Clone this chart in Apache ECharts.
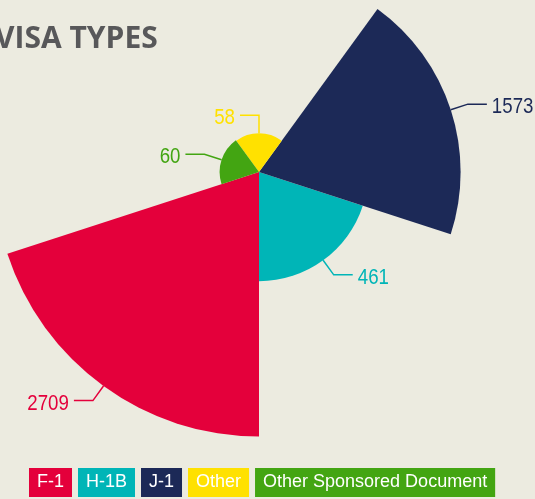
<!DOCTYPE html>
<html>
<head>
<meta charset="utf-8">
<script src="https://cdn.jsdelivr.net/npm/echarts@6/dist/echarts.min.js"></script>
<style>
  html, body { margin: 0; padding: 0; background: #ecebe0; }
  #chart { width: 535px; height: 499px; }
</style>
</head>
<body>
<div id="chart"></div>
<script>
// visa types, counts
const categories = ['F-1', 'H-1B', 'J-1', 'Other', 'Other Sponsored Document'];
const values = [2709, 461, 1573, 58, 60];
const colors = ['#e4003b', '#00b5b7', '#1c2957', '#ffe100', '#43a512'];

const labelFont = '"Liberation Sans", Arial, sans-serif';

// wedge radius grows with sqrt(count) so the area follows the count
function renderSlice(params, api) {
  const cs = params.coordSys;
  const value = api.value(0);
  const color = api.visual('color');
  const pt = api.coord([Math.sqrt(value), api.value(1)]);
  const r = Math.hypot(pt[0] - cs.cx, pt[1] - cs.cy);
  const a = Math.atan2(pt[1] - cs.cy, pt[0] - cs.cx);
  const half = api.size([0, 1])[1] / 2;

  const cos = Math.cos(a), sin = Math.sin(a);
  const side = cos > 0.01 ? 1 : -1;
  const p1 = [pt[0], pt[1]];
  const p2 = [p1[0] + cos * 18, p1[1] + sin * 18];
  const p3 = [p2[0] + side * 19, p2[1]];

  return {
    type: 'group',
    children: [
      {
        type: 'sector',
        shape: { cx: cs.cx, cy: cs.cy, r0: 0, r: r, startAngle: a - half, endAngle: a + half, clockwise: true },
        style: { fill: color }
      },
      {
        type: 'polyline',
        shape: { points: [p1, p2, p3] },
        style: { stroke: color, lineWidth: 1.5, fill: null }
      },
      {
        type: 'text',
        x: p3[0] + side * 5,
        y: p3[1] + 3,
        scaleX: 0.85,
        style: {
          text: String(value),
          fill: color,
          fontSize: 22,
          fontFamily: labelFont,
          align: side > 0 ? 'left' : 'right',
          verticalAlign: 'middle'
        }
      }
    ]
  };
}

const chart = echarts.init(document.getElementById('chart'));
chart.setOption({
  backgroundColor: '#ecebe0',
  animation: false,
  title: {
    text: 'VISA TYPES',
    left: -5,
    top: 24,
    padding: 0,
    textStyle: { fontFamily: '"Open Sans", sans-serif', fontWeight: 'bold', fontSize: 30, color: '#58585a' }
  },
  polar: { center: [259, 172], radius: 305 },
  angleAxis: { type: 'category', data: categories, startAngle: 198, clockwise: false, show: false },
  radiusAxis: { type: 'value', min: 0, max: 60, show: false },
  legend: {
    left: 24,
    top: 468,
    padding: 0,
    itemGap: 1,
    itemWidth: 0,
    itemHeight: 0,
    selectedMode: false,
    data: categories.map((c, i) => ({ name: c, textStyle: { backgroundColor: colors[i] } })),
    textStyle: { color: '#fff', fontSize: 18, fontFamily: labelFont, padding: [6, 8, 5, 8], lineHeight: 18 }
  },
  series: categories.map((c, i) => ({
    type: 'custom',
    name: c,
    coordinateSystem: 'polar',
    itemStyle: { color: colors[i] },
    data: [[values[i], c]],
    renderItem: renderSlice
  }))
});
</script>
</body>
</html>
